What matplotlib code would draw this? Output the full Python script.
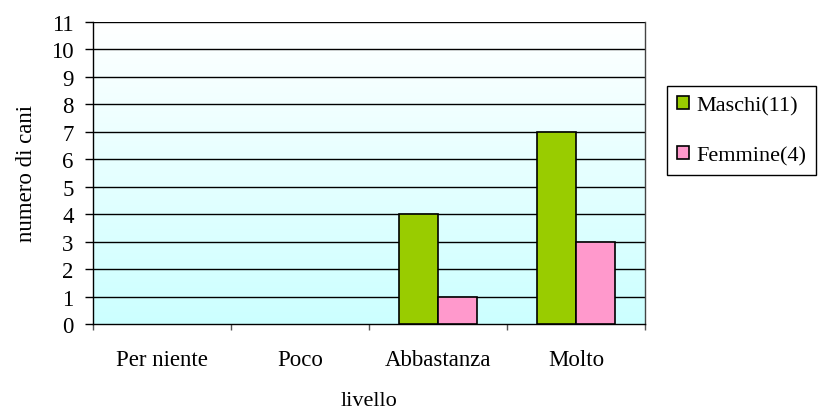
import matplotlib
matplotlib.use("Agg")
import matplotlib.pyplot as plt
from matplotlib.patches import Patch
import numpy as np

categories = ["Per niente", "Poco", "Abbastanza", "Molto"]
maschi = [0, 0, 4, 7]
femmine = [0, 0, 1, 3]
series_labels = ["Maschi(11)", "Femmine(4)"]
y_ticks = list(range(0, 12))
bar_colors = ['#99CC00', '#FF99CC']

plt.rcParams['font.family'] = ['Liberation Serif', 'DejaVu Serif']

fig = plt.figure(figsize=(8.18, 4.10), dpi=100)
ax = fig.add_axes([93/818, 1 - 325/410, (645-93)/818, (325-23)/410])

# gradient background
grad = np.linspace(1.0, 0.0, 256).reshape(-1, 1)
colors = np.zeros((256, 1, 3))
colors[:, 0, 0] = 0.8 + 0.2 * grad[:, 0]
colors[:, 0, 1] = 1.0
colors[:, 0, 2] = 1.0
ax.imshow(colors, extent=[0, 1, 0, 1], transform=ax.transAxes, aspect='auto', zorder=0)

x = np.arange(len(categories))
w = 0.28
lw_m = [1.2 if v > 0 else 0 for v in maschi]
lw_f = [1.2 if v > 0 else 0 for v in femmine]
ax.bar(x - w/2, maschi, w, color=bar_colors[0], edgecolor='black', linewidth=lw_m, zorder=3)
ax.bar(x + w/2, femmine, w, color=bar_colors[1], edgecolor='black', linewidth=lw_f, zorder=3)

ax.set_xlim(-0.5, len(categories) - 0.5)
ax.set_ylim(0, 11)
ax.set_yticks(y_ticks)
for yv in y_ticks[1:]:
    ax.axhline(yv, color='black', linewidth=1.0, zorder=1)

ax.set_xticks(x)
ax.set_xticklabels(categories, fontsize=16.5)
ax.tick_params(axis='x', which='major', length=0, pad=18)
ax.set_xticks(np.arange(-0.5, len(categories)), minor=True)
ax.tick_params(axis='x', which='minor', length=4, width=1, color='#555555', direction='out')
ax.tick_params(axis='y', length=6, width=1, direction='out', pad=8, labelsize=16.5)

ax.spines['top'].set_visible(False)
ax.spines['left'].set_linewidth(1.0)
ax.spines['bottom'].set_linewidth(1.0)
ax.spines['right'].set_linewidth(1.0)
ax.spines['right'].set_color('#444444')

ax.set_ylabel("numero di cani", fontsize=16.5, labelpad=10)
ax.set_xlabel("livello", fontsize=16, labelpad=15)

handles = [Patch(facecolor=c, edgecolor='black', linewidth=1.2) for c in bar_colors]
leg = ax.legend(handles, series_labels, loc='upper left', bbox_to_anchor=(667/818, 1 - 87/410),
                bbox_transform=fig.transFigure,
                fontsize=16, frameon=True, fancybox=False, edgecolor='black', framealpha=1,
                handlelength=0.55, handleheight=0.55, handletextpad=0.3, labelspacing=1.35,
                borderpad=0.45, borderaxespad=0)
leg.get_frame().set_linewidth(1.0)

fig.savefig("out.png", dpi=100)
